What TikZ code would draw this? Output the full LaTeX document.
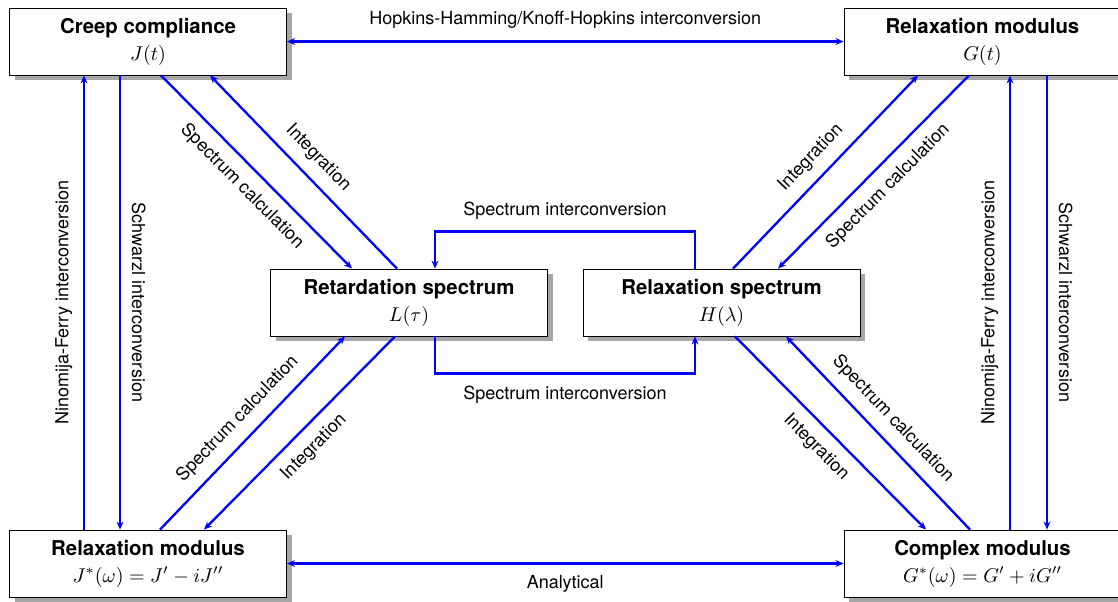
\documentclass[tikz,border=0pt]{standalone}
\usepackage[no-math]{fontspec}
\setmainfont{TeX Gyre Heros}
\usepackage{tikz}
\usetikzlibrary{arrows.meta, calc, shadows}

\begin{document}
\begin{tikzpicture}[x=0.5pt, y=-0.5pt, >={Stealth[length=4pt, width=3.4pt]},
	quantity/.style={draw=black, fill=white, minimum width=138.5pt, minimum height=33.5pt, inner sep=2pt, align=center, font=\fontsize{10.2}{12}\selectfont, drop shadow={opacity=0.7}},
	conv/.style={draw=blue, line width=1.15pt},
	lbl/.style={font=\fontsize{9}{11}\selectfont, text=black}]

	\useasboundingbox (0,0) rectangle (1118,601);

	\node[quantity] (creep) at (148,41.5) {\textbf{Creep compliance}\\[1.5pt]$J(t)$};
	\node[quantity] (relG) at (982.5,41.5) {\textbf{Relaxation modulus}\\[1.5pt]$G(t)$};
	\node[quantity] (retard) at (409,302.5) {\textbf{Retardation spectrum}\\[1.5pt]$L(\tau)$};
	\node[quantity] (relH) at (721.5,302.5) {\textbf{Relaxation spectrum}\\[1.5pt]$H(\lambda)$};
	\node[quantity] (compJ) at (148,563.5) {\textbf{Relaxation modulus}\\[1.5pt]$J^*(\omega)=J'-iJ''$};
	\node[quantity] (compG) at (982.5,563.5) {\textbf{Complex modulus}\\[1.5pt]$G^*(\omega)=G'+iG''$};

	% horizontal links
	\draw[conv, <->] (creep) -- (relG) node[lbl, midway, above=2.5pt] {Hopkins-Hamming/Knoff-Hopkins interconversion};
	\draw[conv, <->] (compJ) -- (compG) node[lbl, midway, below=2pt] {Analytical};

	% left and right columns
	\draw[conv, ->] ($(compJ.north)+(-64,0)$) -- ($(creep.south)+(-64,0)$) node[lbl, midway, sloped, above=2pt] {Ninomija-Ferry interconversion};
	\draw[conv, ->] ($(creep.south)+(-28,0)$) -- ($(compJ.north)+(-28,0)$) node[lbl, midway, sloped, above=2pt] {Schwarzl interconversion};
	\draw[conv, ->] ($(compG.north)+(27.5,0)$) -- ($(relG.south)+(27.5,0)$) node[lbl, midway, sloped, above=2pt] {Ninomija-Ferry interconversion};
	\draw[conv, ->] ($(relG.south)+(64.5,0)$) -- ($(compG.north)+(64.5,0)$) node[lbl, midway, sloped, above=2pt] {Schwarzl interconversion};

	% spectra <-> functions
	\draw[conv, ->] ($(creep.south)+(13,0)$) -- ($(retard.north)+(-57,0)$) node[lbl, midway, sloped, below=2pt] {Spectrum calculation};
	\draw[conv, ->] ($(retard.north)+(-12,0)$) -- ($(creep.south)+(62,0)$) node[lbl, midway, sloped, above=2pt] {Integration};
	\draw[conv, ->] ($(compJ.north)+(12,0)$) -- ($(retard.south)+(-64,0)$) node[lbl, midway, sloped, above=2pt] {Spectrum calculation};
	\draw[conv, ->] ($(retard.south)+(-14,0)$) -- ($(compJ.north)+(56,0)$) node[lbl, midway, sloped, below=2pt] {Integration};
	\draw[conv, ->] ($(relH.north)+(11.5,0)$) -- ($(relG.south)+(-64.5,0)$) node[lbl, midway, sloped, above=2pt] {Integration};
	\draw[conv, ->] ($(relG.south)+(-13.5,0)$) -- ($(relH.north)+(56.5,0)$) node[lbl, midway, sloped, below=2pt] {Spectrum calculation};
	\draw[conv, ->] ($(relH.south)+(13.5,0)$) -- ($(compG.north)+(-56.5,0)$) node[lbl, midway, sloped, below=2pt] {Integration};
	\draw[conv, ->] ($(compG.north)+(-12.5,0)$) -- ($(relH.south)+(64.5,0)$) node[lbl, midway, sloped, above=2pt] {Spectrum calculation};

	% spectrum interconversion loops
	\draw[conv, ->] ($(relH.north)+(-26.5,0)$) |- ($(retard.north)+(26,-37)$) node[lbl, pos=0.75, above=2pt] {Spectrum interconversion} -- ($(retard.north)+(26,0)$);
	\draw[conv, ->] ($(retard.south)+(26,0)$) |- ($(relH.south)+(-26.5,37)$) node[lbl, pos=0.75, below=2.5pt] {Spectrum interconversion} -- ($(relH.south)+(-26.5,0)$);

\end{tikzpicture}
\end{document}
